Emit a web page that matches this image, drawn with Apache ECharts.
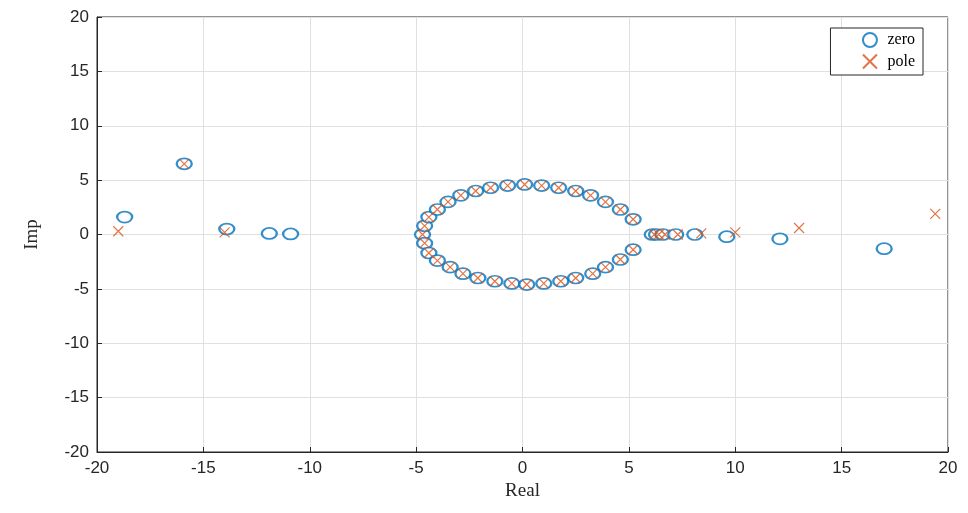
<!DOCTYPE html><html><head><meta charset="utf-8"><script src="https://cdn.jsdelivr.net/npm/echarts@6/dist/echarts.min.js"></script></head><body style="margin:0"><div id="c" style="width:968px;height:513px"></div><script>
const circleUpper=[[-4.7,0],[-4.6,0.8],[-4.4,1.6],[-4.0,2.3],[-3.5,3.0],[-2.9,3.6],[-2.2,4.0],[-1.5,4.3],[-0.7,4.5],[0.1,4.6],[0.9,4.5],[1.7,4.3],[2.5,4.0],[3.2,3.6],[3.9,3.0],[4.6,2.3],[5.2,1.4]];
const circleLower=[[-4.6,-0.8],[-4.4,-1.7],[-4.0,-2.4],[-3.4,-3.0],[-2.8,-3.6],[-2.1,-4.0],[-1.3,-4.3],[-0.5,-4.5],[0.2,-4.6],[1.0,-4.5],[1.8,-4.3],[2.5,-4.0],[3.3,-3.6],[3.9,-3.0],[4.6,-2.3],[5.2,-1.4]];
const zerosExtra=[[-18.7,1.6],[-15.9,6.5],[-13.9,0.5],[-11.9,0.1],[-10.9,0.05],[6.1,0],[6.3,0],[6.6,0],[7.2,0],[8.1,0],[9.6,-0.2],[12.1,-0.4],[17.0,-1.3]];
const polesExtra=[[-19.0,0.3],[-15.9,6.5],[-14.0,0.2],[6.2,0],[6.4,0],[6.7,0],[7.3,0],[8.4,0.1],[10.0,0.2],[13.0,0.6],[19.4,1.9]];
const zeros=circleUpper.concat(circleLower,zerosExtra);
const poles=circleUpper.concat(circleLower,polesExtra);
const ch=echarts.init(document.getElementById('c'));
const ax={axisLine:{show:true,onZero:false,lineStyle:{color:'#262626'}},axisTick:{inside:true,lineStyle:{color:'#262626'}},axisLabel:{color:'#262626',fontSize:17,fontFamily:'Liberation Sans'},splitLine:{show:true,lineStyle:{color:'#e0e0e0'}},nameLocation:'middle',nameTextStyle:{fontFamily:'Liberation Serif',fontSize:19,color:'#262626'}};
ch.setOption({animation:false,
grid:{left:97,right:20,top:17,bottom:61,show:true,borderColor:'#262626',borderWidth:1},
legend:{right:45,top:28,orient:'vertical',backgroundColor:'#fff',borderColor:'#262626',borderWidth:1,borderRadius:0,padding:[4,8,4,30],itemGap:4,textStyle:{fontFamily:'Liberation Serif',fontSize:16,color:'#000'},data:['zero','pole']},
xAxis:Object.assign({type:'value',min:-20,max:20,interval:5,name:'Real',nameGap:30},ax),
yAxis:Object.assign({type:'value',min:-20,max:20,interval:5,name:'Imp',nameGap:55},ax),
series:[
{name:'zero',type:'scatter',data:zeros,symbol:'emptyCircle',symbolSize:[15,11],itemStyle:{color:'#0072BD',borderWidth:1.2}},
{name:'pole',type:'scatter',data:poles,symbol:'path://M0,0L10,10M10,0L0,10',symbolSize:10,itemStyle:{color:'none',borderColor:'#D95319',borderWidth:1.2}}
]});
</script></body></html>
